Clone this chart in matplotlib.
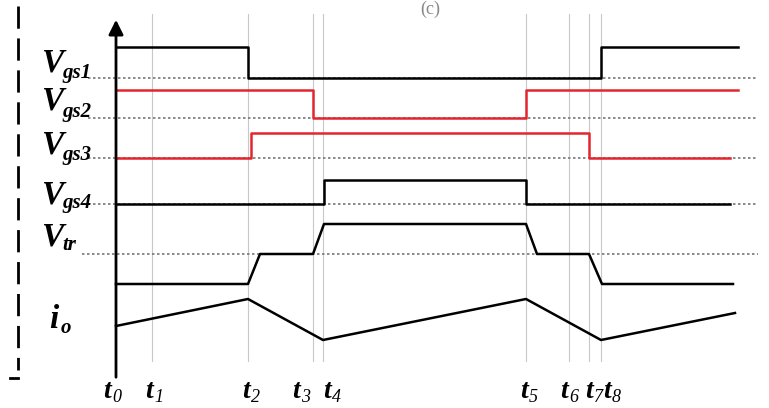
import numpy as np
import matplotlib
matplotlib.use("Agg")
import matplotlib.pyplot as plt

# instants t0..t8 (time units, t0 = 0) and end of the drawn window
t_marks = [0, 36, 132, 197, 207, 410, 453, 473, 485]
t_names = ["0", "1", "2", "3", "4", "5", "6", "7", "8"]
t_end = 622

# gate signals: switching instants and logic levels
vgs1_edges = [0, 132, 485, 622]
vgs1_levels = [1, 0, 1]
vgs2_edges = [0, 197, 410, 622]
vgs2_levels = [1, 0, 1]
vgs3_edges = [0, 135, 473, 614]
vgs3_levels = [0, 1, 0]
vgs4_edges = [0, 208, 410, 614]
vgs4_levels = [0, 1, 0]

# transformer voltage (three levels) and output current
vtr_t = [0, 132, 144, 197, 208, 410, 421, 473, 486, 617]
vtr_v = [0, 0, 0.5, 0.5, 1, 1, 0.5, 0.5, 0, 0]
io_t = [0, 132, 207, 410, 485, 619]
io_v = [35, 62, 21, 62, 21, 48]

RED = "#e3262e"
SERIF = "Liberation Serif"


def step_xy(edges, levels):
    xs = np.repeat(edges, 2)[1:-1]
    ys = np.repeat(levels, 2)
    return xs, ys


fig = plt.figure(figsize=(7.69, 4.08), dpi=100)
ax = fig.add_axes([0, 0, 1, 1])
ax.set_xlim(-116, 653)
ax.set_ylim(408, 0)
ax.axis("off")

# thin vertical guides at each instant
for tm in t_marks[1:]:
    ax.plot([tm, tm], [14, 361], color="#c8c8c8", lw=0.8, zorder=1)

# dotted reference (low) levels
for y0, x0 in [(78, -28), (118, -28), (158, -28), (204, -28), (254, -34)]:
    ax.plot([x0, 642], [y0, y0], color="#777777", lw=1.2, ls=(0, (1.5, 1.5)), zorder=2)

# gate signals: (edges, levels, low y, high y, colour)
gates = [
    (vgs1_edges, vgs1_levels, 78, 47, "black"),
    (vgs2_edges, vgs2_levels, 118, 90, RED),
    (vgs3_edges, vgs3_levels, 158, 133, RED),
    (vgs4_edges, vgs4_levels, 204, 180, "black"),
]
for edges, levels, lo, hi, col in gates:
    xs, ys = step_xy(edges, levels)
    ax.plot(xs, lo + (hi - lo) * ys, color=col, lw=1.8, zorder=3)

ax.plot(vtr_t, 284 - 60 * np.array(vtr_v), color="black", lw=1.8, zorder=3)
ax.plot(io_t, 361 - np.array(io_v), color="black", lw=1.8, zorder=3)

# axes with arrows
ax.annotate("", xy=(0, 17), xytext=(0, 380),
            arrowprops=dict(arrowstyle="-|>", lw=2, color="black", mutation_scale=22))
ax.annotate("", xy=(656, 361), xytext=(-66, 361),
            arrowprops=dict(arrowstyle="-|>", lw=2, color="black", mutation_scale=22))

# dashed frame edge on the left
ax.plot([-98, -98], [6, 370], color="black", lw=2, ls=(0, (8, 3.5)))
ax.plot([-106, -98], [378, 378], color="black", lw=2)

# signal labels
labels = [("V", "gs1", 72, 78), ("V", "gs2", 110, 117), ("V", "gs3", 153, 160),
          ("V", "gs4", 203, 208), ("V", "tr", 245, 250)]
for main, sub, yb, ys in labels:
    ax.text(-75, yb, main, family=SERIF, style="italic", weight="bold",
            fontsize=24, va="baseline", ha="left")
    ax.text(-54, ys, sub, family=SERIF, style="italic", weight="bold",
            fontsize=15, va="baseline", ha="left")
ax.text(-67, 328, "i", family=SERIF, style="italic", weight="bold",
        fontsize=24, va="baseline", ha="left")
ax.text(-55, 333, "o", family=SERIF, style="italic", weight="bold",
        fontsize=15, va="baseline", ha="left")

# time labels
t_offsets = [-13, -7, -6, -21, 0, -6, -9, -4, 2]
for tm, name, off in zip(t_marks, t_names, t_offsets):
    ax.text(tm + off, 398, "t", family=SERIF, style="italic", weight="bold",
            fontsize=20, va="baseline", ha="left")
    ax.text(tm + off + 9, 402, name, family=SERIF, style="italic",
            fontsize=13, va="baseline", ha="left")

ax.text(314, 9, "(c)", family=SERIF, fontsize=13, color="#888888",
        ha="center", va="center")

fig.savefig("out.png", dpi=100)
